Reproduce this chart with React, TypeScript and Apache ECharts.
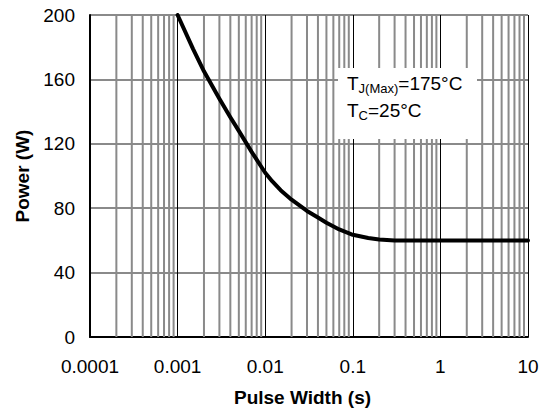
import React, { useEffect, useRef } from "react";
import * as echarts from "echarts";

// Pulse width (s) and power (W)
const pulseWidth = [0.001, 0.0015, 0.002, 0.003, 0.004, 0.005, 0.007, 0.01, 0.012, 0.015, 0.02, 0.03, 0.04, 0.05, 0.07, 0.1, 0.15, 0.2, 0.3, 1, 10];
const power = [200, 179, 165, 148, 136.5, 128, 115, 102, 96.8, 91.2, 85.3, 78.3, 74.2, 71, 66.8, 63.5, 61.5, 60.6, 60, 60, 60];

const xTickValues = [0.0001, 0.001, 0.01, 0.1, 1, 10];
const xTickLabels = ["0.0001", "0.001", "0.01", "0.1", "1", "10"];
const minorDecades = [0.0001, 0.001, 0.01, 0.1, 1];
const minorMultipliers = [2, 3, 4, 5, 6, 7, 8, 9];

const FONT = "Liberation Sans, Arial, sans-serif";

export default function App() {
  const ref = useRef<HTMLDivElement>(null);
  useEffect(() => {
    if (!ref.current) return;
    const chart = echarts.init(ref.current, undefined, { renderer: "svg" });
    const minorData: any[] = [];
    minorDecades.forEach((d) =>
      minorMultipliers.forEach((m) => {
        const v = +(d * m).toPrecision(3);
        minorData.push([v, 0], [v, 200], [v, "-"]);
      })
    );
    chart.setOption({
      animation: false,
      backgroundColor: "#ffffff",
      grid: { left: 90, right: 14, top: 15, bottom: 75 },
      xAxis: {
        type: "log",
        logBase: 10,
        min: 0.0001,
        max: 10,
        name: "Pulse Width (s)",
        nameLocation: "middle",
        nameGap: 51,
        nameTextStyle: { fontFamily: FONT, fontSize: 19, fontWeight: "bold", color: "#000", padding: [0, 13, 0, 0] },
        axisLine: { show: true, lineStyle: { color: "#000", width: 2 } },
        axisTick: { show: false },
        axisLabel: {
          fontFamily: FONT,
          fontSize: 19,
          color: "#000",
          margin: 20,
          formatter: (v: number) => {
            const i = xTickValues.findIndex((t) => Math.abs(Math.log10(t) - Math.log10(v)) < 1e-6);
            return i >= 0 ? xTickLabels[i] : "";
          },
        },
        splitLine: { show: true, lineStyle: { color: "#000", width: 1 } },
      },
      yAxis: {
        type: "value",
        min: 0,
        max: 200,
        interval: 40,
        name: "Power (W)",
        nameLocation: "middle",
        nameGap: 58,
        nameTextStyle: { fontFamily: FONT, fontSize: 19, fontWeight: "bold", color: "#000" },
        axisLine: { show: true, lineStyle: { color: "#000", width: 2 } },
        axisTick: { show: false },
        axisLabel: { fontFamily: FONT, fontSize: 19, color: "#000", margin: 15 },
        splitLine: { show: true, lineStyle: { color: "#8a8a8a", width: 2 } },
      },
      series: [
        {
          type: "line",
          data: minorData,
          z: 1,
          silent: true,
          showSymbol: false,
          connectNulls: false,
          lineStyle: { color: "#8a8a8a", width: 2 },
        },
        {
          type: "line",
          z: 5,
          data: pulseWidth.map((x, i) => [x, power[i]]),
          smooth: false,
          showSymbol: false,
          lineStyle: { color: "#000", width: 4, join: "round", cap: "round" },
        },
      ],
      graphic: [
        {
          type: "rect",
          z: 100,
          shape: { x: 338, y: 68, width: 139, height: 71 },
          style: { fill: "#fff" },
        },
        {
          type: "text",
          z: 101,
          x: 347,
          y: 70,
          style: {
            text: "{t|T}{s|J(Max)}{t|=175°C}\n{t|T}{s|C}{t|=25°C}",
            fill: "#000",
            rich: {
              t: { fontFamily: FONT, fontSize: 19, lineHeight: 27, fill: "#000" },
              s: { fontFamily: FONT, fontSize: 13, lineHeight: 27, padding: [9, 0, 0, 0], fill: "#000" },
            },
          },
        },
      ],
    });
    return () => chart.dispose();
  }, []);
  return <div ref={ref} style={{ position: "absolute", left: 0, top: 0, width: 542, height: 412 }} />;
}
